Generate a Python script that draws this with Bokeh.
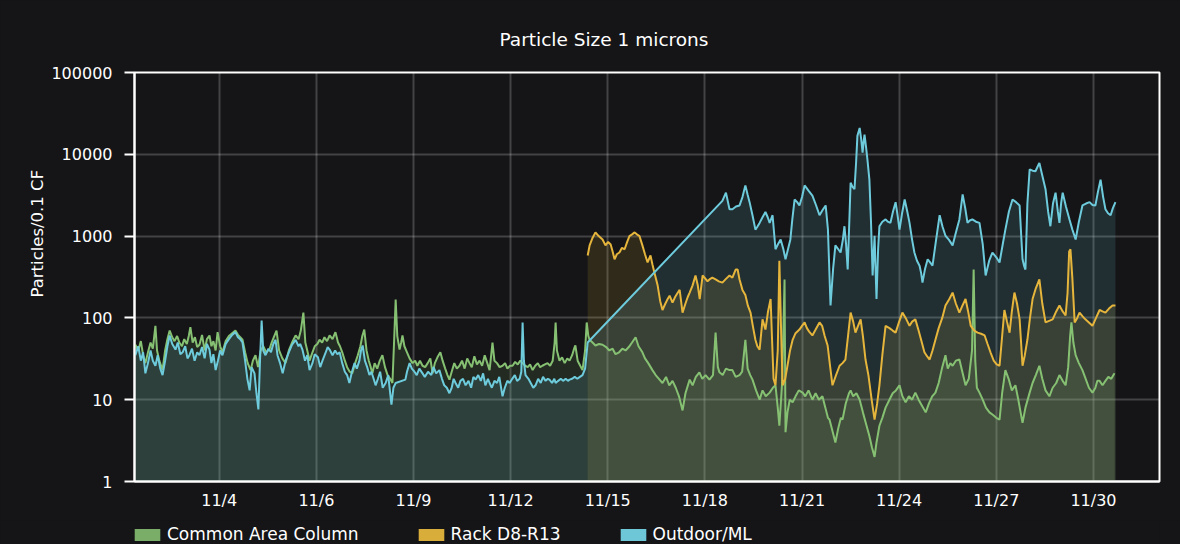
from bokeh.plotting import figure
from bokeh.layouts import column
from bokeh.models import FixedTicker, Legend, LegendItem, Title
from bokeh.embed import file_html
from bokeh.resources import INLINE

TITLE = "Particle Size 1 microns"
Y_LABEL = "Particles/0.1 CF"
SERIES = ["Common Area Column", "Rack D8-R13", "Outdoor/ML"]

x_tick_pos = [3, 6, 9, 12, 15, 18, 21, 24, 27, 30]
x_tick_labels = ["11/4", "11/6", "11/9", "11/12", "11/15", "11/18", "11/21", "11/24", "11/27", "11/30"]
y_tick_pos = [1, 10, 100, 1000, 10000, 100000]
y_tick_labels = ["1", "10", "100", "1000", "10000", "100000"]

# (day, particles) pairs
common_area = [
    (0.41, 47), (0.50, 40), (0.58, 52), (0.65, 35), (0.72, 28), (0.80, 38), (0.88, 50), (0.95, 42), (1.03, 80),
    (1.08, 40), (1.15, 30), (1.25, 23), (1.33, 40), (1.40, 55), (1.47, 70), (1.55, 58), (1.62, 52), (1.70, 60),
    (1.77, 50), (1.85, 45), (1.92, 55), (2.00, 48), (2.06, 60), (2.11, 77), (2.18, 50), (2.25, 58), (2.32, 44),
    (2.39, 47), (2.47, 62), (2.55, 40), (2.62, 55), (2.70, 61), (2.76, 45), (2.82, 52), (2.89, 40), (2.95, 67),
    (3.03, 45), (3.10, 38), (3.20, 52), (3.30, 60), (3.40, 65), (3.50, 70), (3.58, 62), (3.65, 58), (3.72, 54),
    (3.80, 38), (3.88, 28), (3.97, 23), (4.04, 30), (4.12, 35), (4.20, 25), (4.28, 40), (4.36, 45), (4.45, 38),
    (4.55, 41), (4.62, 50), (4.70, 60), (4.77, 70), (4.85, 40), (4.95, 32), (5.05, 28), (5.15, 40), (5.25, 50),
    (5.36, 61), (5.45, 55), (5.52, 70), (5.60, 116), (5.66, 50), (5.72, 40), (5.79, 30), (5.88, 38), (5.95, 45),
    (6.03, 48), (6.10, 54), (6.18, 50), (6.25, 58), (6.33, 52), (6.41, 61), (6.50, 55), (6.59, 67), (6.67, 50),
    (6.73, 45), (6.80, 38), (6.88, 30), (6.95, 25), (7.03, 22), (7.11, 21), (7.20, 28), (7.28, 35), (7.36, 45),
    (7.42, 60), (7.48, 72), (7.55, 40), (7.62, 30), (7.68, 25), (7.73, 21), (7.80, 28), (7.88, 24), (7.96, 30),
    (8.04, 35), (8.12, 25), (8.20, 20), (8.28, 18), (8.35, 16), (8.40, 50), (8.45, 168), (8.50, 60), (8.57, 41),
    (8.62, 50), (8.66, 61), (8.72, 45), (8.80, 38), (8.88, 32), (8.97, 28), (9.05, 30), (9.12, 26), (9.20, 30),
    (9.28, 26), (9.36, 25), (9.44, 28), (9.52, 32), (9.59, 21), (9.66, 28), (9.74, 33), (9.83, 38), (9.90, 30),
    (9.98, 24), (10.05, 20), (10.11, 17.6), (10.18, 22), (10.26, 28), (10.34, 24), (10.42, 26), (10.50, 30),
    (10.58, 24), (10.66, 32), (10.73, 28), (10.80, 25), (10.88, 34), (10.96, 27), (11.04, 30), (11.12, 26),
    (11.20, 35), (11.28, 28), (11.35, 23), (11.40, 35), (11.44, 50), (11.50, 30), (11.58, 28), (11.66, 25),
    (11.75, 26), (11.83, 28), (11.90, 24), (11.98, 26), (12.06, 26), (12.14, 29), (12.22, 27), (12.30, 30),
    (12.37, 28), (12.45, 26), (12.53, 25), (12.60, 27), (12.68, 23), (12.76, 26), (12.84, 28), (12.91, 25),
    (12.98, 26), (13.06, 27), (13.14, 28), (13.22, 26), (13.30, 30), (13.36, 50), (13.39, 88), (13.43, 40),
    (13.51, 30), (13.59, 33), (13.67, 28), (13.75, 32), (13.82, 30), (13.90, 35), (13.96, 42), (14.00, 46),
    (14.07, 30), (14.15, 26), (14.22, 23), (14.30, 40), (14.35, 88), (14.40, 60), (14.44, 54), (14.53, 50),
    (14.62, 46), (14.73, 48), (14.84, 47), (14.95, 44), (15.05, 40), (15.15, 42), (15.24, 36), (15.35, 38),
    (15.45, 42), (15.55, 40), (15.65, 44), (15.75, 50), (15.86, 58), (15.95, 45), (16.07, 38), (16.15, 32),
    (16.25, 28), (16.38, 23), (16.48, 20), (16.58, 18), (16.69, 16), (16.80, 19), (16.90, 15), (17.00, 17),
    (17.10, 14), (17.20, 11), (17.31, 7.4), (17.40, 12), (17.53, 17.6), (17.62, 15), (17.72, 19), (17.83, 21.6),
    (17.92, 18), (18.02, 20), (18.14, 17.6), (18.25, 20), (18.33, 66), (18.40, 25), (18.45, 21.6), (18.55, 20),
    (18.65, 24), (18.76, 23), (18.85, 23), (18.95, 19), (19.07, 20), (19.15, 22), (19.25, 54), (19.32, 24),
    (19.40, 20), (19.47, 17.6), (19.58, 13), (19.69, 10), (19.78, 13), (19.88, 11), (20.00, 12.2), (20.10, 14),
    (20.18, 15), (20.25, 8), (20.30, 4.8), (20.38, 15), (20.42, 60), (20.46, 295), (20.49, 4), (20.55, 7),
    (20.62, 10), (20.71, 9.3), (20.80, 11), (20.90, 13), (21.02, 12.2), (21.10, 11), (21.20, 13), (21.32, 10),
    (21.42, 12), (21.52, 10), (21.63, 11), (21.72, 8), (21.80, 6), (21.85, 5.7), (21.95, 4), (22.03, 3),
    (22.12, 4.5), (22.20, 6), (22.25, 5.7), (22.35, 9), (22.45, 12), (22.50, 13), (22.58, 11), (22.68, 12),
    (22.78, 10), (22.88, 7), (22.98, 5), (23.08, 3.6), (23.16, 2.6), (23.24, 2), (23.30, 3), (23.39, 4.8),
    (23.48, 6), (23.58, 8), (23.70, 10), (23.80, 12), (23.90, 13), (24.01, 15), (24.10, 11), (24.20, 9.3),
    (24.30, 11), (24.40, 10), (24.50, 12.2), (24.60, 10), (24.70, 8.5), (24.82, 7), (24.92, 9), (25.02, 11),
    (25.12, 12.2), (25.22, 16), (25.32, 24), (25.43, 35), (25.50, 24), (25.58, 28), (25.65, 26), (25.75, 30),
    (25.86, 31), (25.95, 22), (26.05, 15), (26.15, 18), (26.25, 40), (26.30, 390), (26.35, 30), (26.40, 14),
    (26.48, 12.2), (26.58, 10), (26.68, 8), (26.79, 7), (26.90, 6.5), (27.00, 6), (27.10, 5.7), (27.18, 12),
    (27.28, 23), (27.38, 18), (27.48, 13), (27.59, 15), (27.68, 10), (27.75, 7), (27.81, 5.2), (27.90, 8),
    (28.03, 12.2), (28.12, 16), (28.22, 20), (28.33, 26), (28.42, 18), (28.52, 13), (28.64, 11), (28.74, 14),
    (28.85, 16), (28.95, 20), (29.05, 17), (29.14, 15), (29.22, 25), (29.28, 60), (29.32, 88), (29.38, 50),
    (29.45, 35), (29.55, 28), (29.66, 23), (29.76, 18), (29.86, 14), (29.97, 12.2), (30.06, 14), (30.12, 17),
    (30.19, 17), (30.28, 15), (30.37, 17), (30.46, 19), (30.55, 18), (30.65, 21),
]

rack_d8 = [
    (14.38, 580), (14.44, 770), (14.53, 950), (14.62, 1110), (14.72, 1000), (14.84, 910), (14.93, 770),
    (15.01, 850), (15.09, 790), (15.15, 650), (15.21, 520), (15.28, 600), (15.36, 630), (15.44, 720),
    (15.52, 690), (15.60, 850), (15.67, 1000), (15.75, 1050), (15.83, 1110), (15.90, 1050), (15.98, 1000),
    (16.07, 770), (16.15, 600), (16.23, 476), (16.32, 580), (16.38, 450), (16.44, 360), (16.54, 250),
    (16.62, 160), (16.69, 125), (16.78, 150), (16.85, 170), (16.91, 187), (17.00, 154), (17.08, 180),
    (17.15, 200), (17.22, 220), (17.31, 116), (17.40, 150), (17.47, 180), (17.53, 204), (17.62, 250),
    (17.71, 330), (17.78, 250), (17.84, 170), (17.93, 330), (18.02, 300), (18.08, 280), (18.14, 295),
    (18.23, 310), (18.33, 295), (18.43, 280), (18.54, 270), (18.65, 300), (18.76, 330), (18.85, 310),
    (18.95, 390), (19.01, 390), (19.07, 295), (19.16, 220), (19.25, 190), (19.33, 140), (19.41, 116),
    (19.48, 80), (19.56, 54), (19.62, 45), (19.69, 41), (19.78, 96), (19.87, 72), (19.95, 120), (20.03, 170),
    (20.07, 60), (20.12, 18), (20.18, 15), (20.25, 40), (20.30, 500), (20.35, 80), (20.40, 15), (20.48, 18),
    (20.55, 26), (20.63, 40), (20.71, 54), (20.80, 65), (20.92, 72), (21.00, 80), (21.08, 88), (21.15, 75),
    (21.22, 68), (21.32, 61), (21.42, 72), (21.54, 88), (21.62, 80), (21.70, 60), (21.79, 46), (21.87, 25),
    (21.94, 15), (22.05, 20), (22.16, 26), (22.25, 28), (22.34, 31), (22.42, 60), (22.50, 116), (22.58, 90),
    (22.65, 66), (22.73, 80), (22.81, 96), (22.88, 60), (22.96, 31), (23.05, 20), (23.15, 10), (23.24, 5.7),
    (23.32, 9), (23.39, 15), (23.48, 35), (23.58, 80), (23.70, 75), (23.80, 70), (23.89, 66), (24.00, 90),
    (24.10, 116), (24.20, 100), (24.32, 80), (24.40, 90), (24.50, 96), (24.60, 70), (24.70, 50), (24.78, 38),
    (24.86, 34), (24.94, 31), (25.03, 40), (25.12, 54), (25.22, 75), (25.33, 100), (25.43, 142), (25.55, 170),
    (25.65, 204), (25.75, 150), (25.86, 116), (25.95, 140), (26.05, 170), (26.13, 120), (26.21, 80),
    (26.32, 70), (26.42, 66), (26.53, 64), (26.64, 61), (26.73, 48), (26.82, 38), (26.92, 30), (27.01, 27),
    (27.10, 26), (27.18, 60), (27.25, 125), (27.33, 90), (27.41, 66), (27.48, 120), (27.56, 204), (27.64, 150),
    (27.72, 96), (27.81, 26), (27.88, 35), (27.96, 54), (28.04, 100), (28.12, 170), (28.22, 230), (28.33, 295),
    (28.42, 150), (28.52, 88), (28.63, 92), (28.74, 96), (28.85, 120), (28.95, 142), (29.05, 120),
    (29.14, 107), (29.20, 200), (29.25, 650), (29.29, 690), (29.35, 300), (29.42, 88), (29.50, 100),
    (29.57, 116), (29.66, 105), (29.75, 96), (29.86, 88), (29.97, 80), (30.08, 100), (30.19, 125),
    (30.28, 120), (30.37, 116), (30.48, 130), (30.59, 142), (30.68, 142),
]

outdoor_ml = [
    (0.41, 35), (0.50, 45), (0.58, 30), (0.65, 38), (0.72, 21), (0.80, 28), (0.88, 40), (0.95, 30), (1.03, 26),
    (1.10, 35), (1.18, 24), (1.25, 20), (1.33, 30), (1.40, 45), (1.47, 61), (1.55, 48), (1.65, 41), (1.72, 50),
    (1.80, 36), (1.87, 38), (1.95, 45), (2.02, 32), (2.08, 35), (2.16, 42), (2.24, 30), (2.32, 38), (2.39, 35),
    (2.47, 44), (2.55, 32), (2.62, 48), (2.70, 41), (2.76, 28), (2.82, 36), (2.89, 23), (2.96, 30), (3.03, 40),
    (3.10, 35), (3.20, 48), (3.30, 55), (3.40, 62), (3.50, 67), (3.58, 58), (3.65, 55), (3.72, 50), (3.80, 30),
    (3.87, 18), (3.94, 13), (4.00, 25), (4.09, 21), (4.15, 12), (4.21, 7.6), (4.26, 30), (4.31, 93), (4.36, 40),
    (4.43, 35), (4.52, 42), (4.60, 38), (4.67, 48), (4.74, 54), (4.80, 35), (4.88, 28), (4.96, 21), (5.05, 30),
    (5.15, 38), (5.25, 47), (5.36, 54), (5.45, 45), (5.50, 48), (5.57, 41), (5.65, 30), (5.72, 35), (5.79, 23),
    (5.88, 28), (5.95, 36), (6.05, 33), (6.12, 25), (6.19, 30), (6.28, 37), (6.35, 44), (6.41, 41), (6.50, 35),
    (6.58, 40), (6.65, 36), (6.72, 38), (6.80, 28), (6.88, 22), (6.95, 20), (7.02, 16), (7.10, 22), (7.18, 28),
    (7.25, 24), (7.33, 30), (7.38, 40), (7.43, 46), (7.50, 30), (7.57, 25), (7.64, 20), (7.70, 22), (7.77, 18),
    (7.83, 15), (7.90, 18), (7.97, 22), (8.05, 14), (8.14, 16), (8.22, 20), (8.28, 12), (8.32, 8.7), (8.38, 14),
    (8.45, 16), (8.75, 17.6), (8.80, 22), (8.88, 28), (8.95, 24), (9.03, 22), (9.10, 20), (9.18, 24), (9.28, 21),
    (9.35, 19), (9.45, 22), (9.55, 20), (9.62, 25), (9.70, 21), (9.80, 23), (9.88, 18), (9.95, 15), (10.03, 14),
    (10.11, 12), (10.18, 14), (10.24, 18), (10.30, 16), (10.38, 14), (10.45, 17), (10.53, 18), (10.61, 15),
    (10.70, 17), (10.78, 14), (10.85, 19), (10.92, 17.6), (11.00, 20), (11.08, 17), (11.15, 21), (11.22, 15),
    (11.30, 18), (11.35, 16), (11.42, 14), (11.50, 17), (11.58, 16), (11.65, 19), (11.75, 11), (11.82, 14),
    (11.90, 17), (11.97, 16), (12.05, 18), (12.13, 20), (12.20, 17), (12.28, 18), (12.33, 22), (12.37, 88),
    (12.41, 30), (12.46, 20), (12.55, 18), (12.62, 16), (12.70, 14), (12.77, 15), (12.85, 18), (12.93, 16),
    (13.00, 19), (13.08, 17), (13.15, 18), (13.20, 17.6), (13.28, 16), (13.35, 18), (13.39, 16), (13.47, 17),
    (13.55, 18), (13.62, 17), (13.70, 18), (13.77, 17), (13.82, 17.6), (13.90, 18), (13.98, 19), (14.06, 18),
    (14.14, 19), (14.22, 20), (14.30, 24), (14.38, 50),
    (18.54, 2700), (18.65, 3400), (18.76, 2130), (18.85, 2130), (18.96, 2300), (19.07, 2370), (19.16, 3000),
    (19.25, 4170), (19.32, 3200), (19.38, 2600), (19.47, 1800), (19.56, 1200), (19.62, 1300), (19.69, 1450),
    (19.78, 1700), (19.87, 1970), (19.94, 1700), (20.00, 1450), (20.09, 1800), (20.18, 690), (20.26, 800),
    (20.34, 910), (20.42, 700), (20.49, 520), (20.57, 700), (20.64, 910), (20.70, 1600), (20.77, 2800),
    (20.85, 2600), (20.92, 2370), (21.00, 3000), (21.08, 4170), (21.20, 3600), (21.32, 3130), (21.43, 2400),
    (21.54, 1800), (21.64, 2100), (21.73, 2370), (21.80, 1200), (21.88, 142), (21.96, 400), (22.03, 770),
    (22.11, 700), (22.19, 630), (22.26, 900), (22.31, 1320), (22.36, 800), (22.41, 390), (22.46, 1500),
    (22.50, 4500), (22.56, 4000), (22.62, 3740), (22.67, 8000), (22.71, 16800), (22.78, 21000), (22.83, 15000),
    (22.87, 10500), (22.90, 14000), (22.93, 17400), (22.98, 12000), (23.02, 8600), (23.08, 4900), (23.13, 1500),
    (23.18, 330), (23.24, 1010), (23.30, 170), (23.35, 700), (23.39, 1320), (23.48, 1500), (23.58, 1600),
    (23.65, 1500), (23.73, 1450), (23.81, 2000), (23.89, 2600), (23.95, 1800), (24.01, 1200), (24.09, 1900),
    (24.17, 2800), (24.25, 2000), (24.32, 1450), (24.40, 900), (24.47, 630), (24.55, 500), (24.63, 435),
    (24.68, 350), (24.72, 270), (24.80, 400), (24.88, 520), (24.95, 480), (25.03, 435), (25.14, 900),
    (25.25, 1800), (25.34, 1300), (25.43, 1010), (25.54, 900), (25.65, 770), (25.75, 1100), (25.86, 1600),
    (25.96, 3230), (26.04, 2200), (26.11, 1450), (26.18, 1550), (26.26, 1600), (26.37, 1500), (26.48, 1450),
    (26.58, 800), (26.67, 330), (26.78, 500), (26.88, 630), (27.00, 550), (27.10, 476), (27.20, 800),
    (27.28, 1200), (27.39, 2000), (27.50, 2800), (27.61, 2600), (27.72, 2370), (27.77, 1000), (27.81, 520),
    (27.86, 430), (27.90, 390), (27.96, 2500), (28.03, 6550), (28.12, 6300), (28.21, 6200), (28.27, 7000),
    (28.33, 7860), (28.42, 5500), (28.52, 3740), (28.60, 2000), (28.67, 1320), (28.75, 2500), (28.83, 3400),
    (28.90, 2000), (28.95, 1450), (29.00, 2500), (29.05, 3400), (29.15, 2300), (29.26, 1600), (29.35, 1200),
    (29.45, 910), (29.55, 1500), (29.66, 2370), (29.77, 2500), (29.88, 2600), (29.97, 2400), (30.06, 2370),
    (30.14, 3500), (30.22, 4900), (30.30, 3000), (30.37, 2130), (30.45, 1900), (30.53, 1800), (30.60, 2200),
    (30.68, 2600),
]

BG = "#151517"
FONT = "DejaVu Sans"
line_colors = ["#86c072", "#e5b53c", "#6dcbdc"]
swatch_colors = ["#7aae68", "#d9ad3a", "#6ec7d6"]

p = figure(width=1180, height=520, y_axis_type="log",
           x_range=(0.384, 32.04), y_range=(1, 100000),
           output_backend="svg", toolbar_location=None,
           background_fill_color=BG, border_fill_color=BG,
           min_border_left=134, min_border_right=21, min_border_top=72, min_border_bottom=39)

p.title.text = TITLE
p.title.align = "left"
p.title.offset = 365
p.title.text_color = "white"
p.title.text_font = FONT
p.title.text_font_size = "18.5px"
p.title.text_font_style = "normal"
p.title.standoff = 46

p.outline_line_color = "white"
p.outline_line_width = 2

for ax in (p.xaxis[0], p.yaxis[0]):
    ax.axis_line_color = "white"
    ax.axis_line_width = 2
    ax.major_tick_line_color = "white"
    ax.major_tick_line_width = 2
    ax.minor_tick_line_color = None
    ax.major_label_text_color = "white"
    ax.major_label_text_font = FONT
    ax.major_label_text_font_size = "16px"

p.xaxis.ticker = FixedTicker(ticks=x_tick_pos)
p.xaxis.major_label_overrides = dict(zip(x_tick_pos, x_tick_labels))
p.xaxis.major_tick_out = 0
p.xaxis.major_tick_in = 0
p.xaxis.major_label_standoff = 9

p.yaxis.ticker = FixedTicker(ticks=y_tick_pos, minor_ticks=[])
p.yaxis.major_label_overrides = dict(zip(y_tick_pos, y_tick_labels))
p.yaxis.major_tick_out = 10
p.yaxis.major_tick_in = 0
p.yaxis.major_label_standoff = 12

ylab = Title(text=Y_LABEL, align="left", offset=184, standoff=4,
             text_color="white", text_font=FONT, text_font_size="16.5px", text_font_style="normal")
p.add_layout(ylab, "left")

for g in (p.xgrid[0], p.ygrid[0]):
    g.grid_line_color = "white"
    g.grid_line_alpha = 0.2
    g.grid_line_width = 2
p.ygrid.minor_grid_line_color = None

data = [common_area, rack_d8, outdoor_ml]
for i, series in enumerate(data):
    days = [d for d, _ in series]
    vals = [v for _, v in series]
    p.varea(x=days, y1=[1] * len(days), y2=vals, fill_color=swatch_colors[i], fill_alpha=0.145)
for i, series in enumerate(data):
    days = [d for d, _ in series]
    vals = [v for _, v in series]
    p.line(days, vals, line_color=line_colors[i], line_width=2)

# legend strip under the chart
lg = figure(width=1180, height=24, x_range=(0, 1), y_range=(0, 1),
            x_axis_type=None, y_axis_type=None,
            output_backend="svg", toolbar_location=None,
            background_fill_color=BG, border_fill_color=BG,
            min_border_left=0, min_border_right=0, min_border_top=0, min_border_bottom=0)
lg.outline_line_color = None
lg.xgrid.visible = False
lg.ygrid.visible = False

items = []
for i, name in enumerate(SERIES):
    days = [d for d, _ in data[i]]
    vals = [v for _, v in data[i]]
    r = lg.varea(x=days, y1=[1] * len(days), y2=vals, fill_color=swatch_colors[i], fill_alpha=1,
                 visible=False)
    items.append(LegendItem(label=name, renderers=[r]))

legend = Legend(items=items, orientation="horizontal", location=(-3, 0),
                background_fill_alpha=0, border_line_color=None,
                label_text_color="white", label_text_font=FONT, label_text_font_size="17px",
                glyph_width=32, glyph_height=15, label_standoff=4, spacing=56,
                padding=0, margin=0)
lg.add_layout(legend, "center")

page = column(p, lg, spacing=0, styles={"background-color": BG})
open("out.html", "w").write(file_html(page, INLINE))
